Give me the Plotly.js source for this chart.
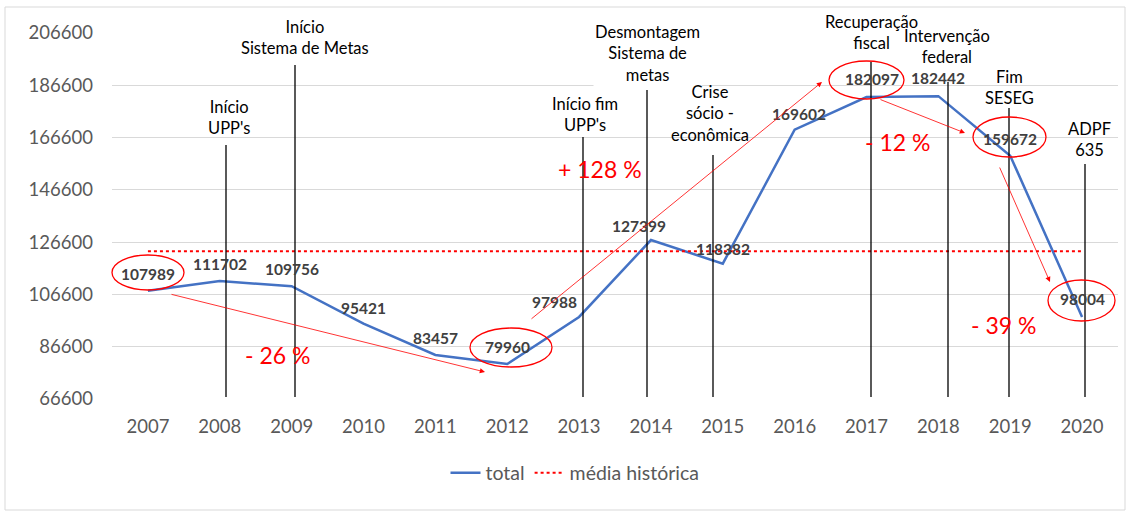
<!DOCTYPE html>
<html>
<head>
<meta charset="utf-8">
<script src="https://cdn.plot.ly/plotly-3.0.1.min.js"></script>
<style>html,body{margin:0;padding:0;background:#fff;}#chart{width:1130px;height:513px;}</style>
</head>
<body>
<div id="chart"></div>
<script>
// ---- data ----
const years = [2007, 2008, 2009, 2010, 2011, 2012, 2013, 2014, 2015, 2016, 2017, 2018, 2019, 2020];
const total = [107989, 111702, 109756, 95421, 83457, 79960, 97988, 127399, 118382, 169602, 182097, 182442, 159672, 98004];
const mediaHistorica = 123134;
const yTicks = [66600, 86600, 106600, 126600, 146600, 166600, 186600, 206600];

// ---- label offsets (styling) ----
const labelDx = [0, 0, 0, 0, 0, 0, -25, -12, 0, 4, 5, 0, 0, 0];
const labelDy = [17, 17, 17, 16, 17, 17, 15, 14, 15, 16, 18, 18, 17, 18];

// pixel -> paper helpers (for decorations only)
const L = 112, R = 12, T = 33, B = 114, W = 1130, H = 513;
const pw = W - L - R, ph = H - T - B;
const px = v => (v - L) / pw;
const py = v => (H - B - v) / ph;

const FONT = 'Lato, "Open Sans", sans-serif';

const traces = [
  {
    x: years, y: total, name: 'total', type: 'scatter', mode: 'lines',
    line: {color: '#4472C4', width: 2.5}, hoverinfo: 'x+y'
  },
  {
    x: years, y: years.map(() => mediaHistorica), name: 'média histórica', type: 'scatter', mode: 'lines',
    line: {color: '#FF0000', width: 2, dash: 'dot'}, hoverinfo: 'y'
  }
];

const annotations = [];
// data labels
years.forEach((yr, i) => {
  annotations.push({
    x: yr, y: total[i], xref: 'x', yref: 'y', text: String(total[i]), showarrow: false,
    xshift: labelDx[i], yshift: labelDy[i],
    font: {family: FONT, size: 15.5, color: '#404040', weight: 'bold'}
  });
});

// events: [text, cx, cy, lineX, lineTop, whiteBg]
const events = [
  ["Início<br>UPP's", 229, 117, 226, 145, false],
  ["Início<br>Sistema de Metas", 305, 37, 295, 65, false],
  ["Início fim<br>UPP's", 585, 114, 583, 137, false],
  ["Desmontagem<br>Sistema de<br>metas", 647, 54, 647, 90, true],
  ["Crise<br>sócio -<br>econômica", 710, 113, 713, 155, false],
  ["Recuperação<br>fiscal", 871, 32, 871, 62, false],
  ["Intervenção<br>federal", 947, 46, 948, 82, false],
  ["Fim<br>SESEG", 1009, 87, 1009, 108, false],
  ["ADPF<br>635", 1089, 139, 1085, 164, false]
];
const shapes = [];
events.forEach(e => {
  annotations.push({
    xref: 'paper', yref: 'paper', x: px(e[1]), y: py(e[2]), xanchor: 'center', yanchor: 'middle',
    text: e[0], showarrow: false, font: {family: FONT, size: 16.5, color: '#000'},
    bgcolor: e[5] ? '#ffffff' : 'rgba(0,0,0,0)'
  });
  shapes.push({type: 'line', xref: 'paper', yref: 'paper', x0: px(e[3]), x1: px(e[3]), y0: py(e[4]), y1: py(397),
    line: {color: '#000', width: 1.3}});
});

// percent labels
const pct = [["- 26 %", 277, 355], ["+ 128 %", 600, 169], ["- 12 %", 897, 142], ["- 39 %", 1003, 325]];
pct.forEach(p => annotations.push({
  xref: 'paper', yref: 'paper', x: px(p[1]), y: py(p[2]), xanchor: 'center', yanchor: 'middle',
  text: p[0], showarrow: false, font: {family: FONT, size: 23, color: '#FF0000'}
}));

// arrows: tail -> head
const arrows = [[170, 294, 485, 372], [530, 320, 822, 82], [879, 99, 965, 133], [999, 166, 1050, 282]];
arrows.forEach(a => annotations.push({
  xref: 'paper', yref: 'paper', x: px(a[2]), y: py(a[3]), ax: a[0] - a[2], ay: a[1] - a[3],
  text: '', showarrow: true, arrowhead: 2, arrowsize: 1.3, arrowwidth: 0.8, arrowcolor: '#FF0000'
}));

// ellipses
const ellipses = [[112, 255, 184, 290], [470, 328, 552, 367], [829, 61, 904, 99], [973, 117, 1046, 157], [1048, 280, 1115, 321]];
ellipses.forEach(e => shapes.push({
  type: 'circle', xref: 'paper', yref: 'paper', x0: px(e[0]), x1: px(e[2]), y0: py(e[3]), y1: py(e[1]),
  line: {color: '#FF0000', width: 1.3}
}));

// outer border
shapes.push({type: 'rect', xref: 'paper', yref: 'paper', x0: px(5), x1: px(1125), y0: py(510), y1: py(7),
  line: {color: '#d9d9d9', width: 1}, layer: 'below'});

const layout = {
  width: W, height: H,
  margin: {l: L, r: R, t: T, b: B, pad: 0},
  paper_bgcolor: '#fff', plot_bgcolor: '#fff',
  font: {family: FONT, color: '#595959'},
  showlegend: true,
  legend: {orientation: 'h', x: px(575), y: py(473), xanchor: 'center', yanchor: 'middle',
    font: {family: FONT, size: 19.5, color: '#595959'}, traceorder: 'normal'},
  xaxis: {
    type: 'linear', range: [2006.5, 2020.5], tickvals: years, ticktext: years.map(String),
    showgrid: false, zeroline: false, showline: false, ticks: '',
    tickfont: {family: FONT, size: 18.5, color: '#595959'}, ticklabelstandoff: 14, fixedrange: true
  },
  yaxis: {
    range: [66600, 206600], tickvals: yTicks, ticktext: yTicks.map(String),
    showgrid: true, gridcolor: '#d9d9d9', gridwidth: 1, zeroline: false, showline: false, ticks: '',
    tickfont: {family: FONT, size: 18.5, color: '#595959'}, ticklabelstandoff: 18, fixedrange: true
  },
  annotations: annotations,
  shapes: shapes
};

Plotly.newPlot('chart', traces, layout, {displayModeBar: false, staticPlot: true});
</script>
</body>
</html>
